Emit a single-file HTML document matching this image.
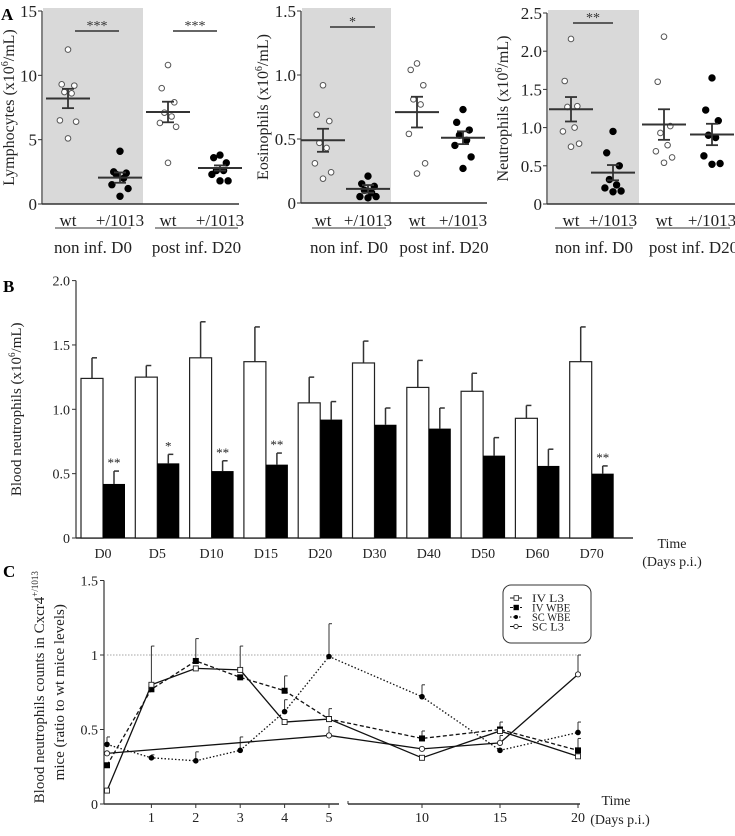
<!DOCTYPE html>
<html><head><meta charset="utf-8"><style>
html,body{margin:0;padding:0;background:#fff;}
svg, svg text{font-family:"Liberation Serif","Times New Roman",serif;}
</style></head><body>
<svg id="fig" width="735" height="831" viewBox="0 0 735 831" xmlns="http://www.w3.org/2000/svg" font-family="Liberation Serif, serif"></svg>
<script>
// ---------- Panel A data ----------
const aGroups = ["wt","+/1013","wt","+/1013"];
const aPeriods = ["non inf. D0","post inf. D20"];
const lymphVals = [[12,9.3,9.2,8.7,8.6,6.5,6.4,5.1],[4.1,2.5,2.4,2.3,2.0,1.5,1.2,0.6],[10.8,9.0,7.9,7.1,6.8,6.3,6.0,3.2],[3.8,3.6,3.2,2.6,2.6,2.3,1.8,1.8]];
const lymphMean = [8.2,2.05,7.15,2.8];
const lymphSem = [0.75,0.4,0.8,0.2];
const eosVals = [[0.92,0.69,0.64,0.47,0.43,0.31,0.24,0.19],[0.21,0.15,0.13,0.10,0.08,0.05,0.05,0.04],[1.09,1.04,0.92,0.81,0.77,0.54,0.31,0.23],[0.73,0.63,0.57,0.53,0.49,0.45,0.36,0.27]];
const eosMean = [0.49,0.11,0.71,0.51];
const eosSem = [0.09,0.03,0.12,0.05];
const neuVals = [[2.16,1.61,1.28,1.27,1.0,0.95,0.79,0.75],[0.95,0.67,0.50,0.32,0.25,0.21,0.17,0.16],[2.19,1.60,1.02,0.93,0.77,0.69,0.61,0.54],[1.65,1.23,1.09,0.90,0.87,0.63,0.53,0.52]];
const neuMean = [1.24,0.41,1.04,0.91];
const neuSem = [0.16,0.1,0.2,0.14];
const lymphTicks = [0,5,10,15];
const eosTicks = [0,0.5,1.0,1.5];
const neuTicks = [0,0.5,1.0,1.5,2.0,2.5];

// ---------- Panel B data ----------
const bDays = ["D0","D5","D10","D15","D20","D30","D40","D50","D60","D70"];
const bWt = [1.24,1.25,1.40,1.37,1.05,1.36,1.17,1.14,0.93,1.37];
const bWtErr = [0.16,0.09,0.28,0.27,0.20,0.17,0.21,0.14,0.10,0.27];
const bMut = [0.42,0.58,0.52,0.57,0.92,0.88,0.85,0.64,0.56,0.50];
const bMutErr = [0.10,0.07,0.08,0.09,0.14,0.13,0.16,0.14,0.13,0.06];
const bStars = ["**","*","**","**","","","","","","**"];
const bTicks = [0,0.5,1.0,1.5,2.0];

// ---------- Panel C data ----------
const cDays = [0,1,2,3,4,5,10,15,20];
const cTicks = [1,2,3,4,5,10,15,20];
const cYTicks = [0,0.5,1,1.5];
const ivL3 = [0.09,0.80,0.91,0.90,0.55,0.57,0.31,0.49,0.32];
const ivL3Err = [0,0.26,0,0.16,0,0,0,0,0];
const ivWbe = [0.26,0.77,0.96,0.85,0.76,0.57,0.44,0.50,0.36];
const ivWbeErr = [0,0,0.15,0,0.10,0.07,0.05,0.05,0.08];
const scWbe = [0.40,0.31,0.29,0.36,0.62,0.99,0.72,0.36,0.48];
const scWbeErr = [0.05,0.02,0.06,0.09,0.08,0.22,0.08,0,0.07];
const scL3Days = [0,5,10,15,20];
const scL3 = [0.34,0.46,0.37,0.41,0.87];
const scL3Err = [0,0.06,0,0.05,0.13];

const NS="http://www.w3.org/2000/svg";
const svg=document.getElementById('fig');
const FF='"Liberation Serif", serif';
function mk(tag,attrs,parent,txt){const e=document.createElementNS(NS,tag);for(const k in attrs)e.setAttribute(k,attrs[k]);if(tag==='text')e.setAttribute('font-family',FF);if(txt!==undefined)e.textContent=txt;(parent||svg).appendChild(e);return e;}
function line(x1,y1,x2,y2,st,w,dash,p){const a={x1,y1,x2,y2,stroke:st||'#000','stroke-width':w||1};if(dash)a['stroke-dasharray']=dash;return mk('line',a,p);}

// ---------------- Panel A ----------------
const aLab=mk('text',{x:1,y:20,'font-size':17,'font-weight':'bold'},svg,'A');


function dotPanel(cfg){
  const g=mk('g',{});
  
  
  const Y=v=>cfg.y0-(v/cfg.max)*(cfg.y0-cfg.yTop);
  const sh=mk('rect',{x:cfg.ax+1,y:cfg.yTop-3,width:cfg.shadeW,height:cfg.y0-cfg.yTop+3,fill:'#d9d9d9'},g);
  
  
  line(cfg.ax,cfg.yTop,cfg.ax,cfg.y0,'#333',1.2,null,g);
  line(cfg.ax,cfg.y0,cfg.xEnd,cfg.y0,'#333',1.5,null,g);
  cfg.ticks.forEach(t=>{
    line(cfg.ax-4,Y(t),cfg.ax,Y(t),'#333',1,null,g);
    const tx=mk('text',{x:cfg.ax-5,y:Y(t)+6,'font-size':17,'text-anchor':'end',fill:'#222'},g,cfg.fmt(t));
    
    
  });
  const yl=mk('text',{x:0,y:0,'font-size':16,'text-anchor':'middle',fill:'#222',transform:`translate(${cfg.ylx},${(cfg.y0+cfg.yTop)/2}) rotate(-90)`},g);
  
  
  yl.innerHTML='<tspan>'+cfg.ylabel+' (x10</tspan><tspan font-size="10" dy="-6">6</tspan><tspan dy="6">/mL)</tspan>';
  cfg.centers.forEach((cx,gi)=>{
    const vals=cfg.vals[gi];const filled=gi%2===1;
    vals.forEach((v,i)=>{
      const off=[-0,-7,7,-4,4,-9,9,0][i%8]*0.9;
      const c=mk('circle',{cx:cx+off,cy:Y(v),r:filled?3.2:2.8,fill:filled?'#000':'#fff',stroke:filled?'#000':'#555','stroke-width':1},g);
      
      
    });
    const m=cfg.mean[gi],s=cfg.sem[gi];
    line(cx-22,Y(m),cx+22,Y(m),'#333',2,null,g);
    line(cx,Y(m+s),cx,Y(m-s),'#333',1.8,null,g);
    line(cx-6,Y(m+s),cx+6,Y(m+s),'#333',1.8,null,g);
    line(cx-6,Y(m-s),cx+6,Y(m-s),'#333',1.8,null,g);
    const gl=mk('text',{x:cx,y:226,'font-size':17,'text-anchor':'middle',fill:'#222'},g,aGroups[gi]);
    
    
  });
  cfg.under.forEach((u,i)=>{
    line(u[0],228,u[1],228,'#333',1,null,g);
    const pl=mk('text',{x:(u[0]+u[1])/2,y:253,'font-size':17,'text-anchor':'middle',fill:'#222'},g,aPeriods[i]);
    
    
  });
  cfg.sig.forEach(s=>{
    line(s[0],s[2],s[1],s[2],'#333',1.5,null,g);
    const st=mk('text',{x:(s[0]+s[1])/2,y:s[2]-1,'font-size':14,'text-anchor':'middle',fill:'#333'},g,s[3]);
    
    
  });
}
dotPanel({name:'lymphocytes-chart',ax:42,y0:204,yTop:11,max:15,shadeW:100,xEnd:239,ticks:lymphTicks,fmt:t=>String(t),ylx:14,ylabel:'Lymphocytes',
  centers:[68,120,168,220],vals:lymphVals,mean:lymphMean,sem:lymphSem,under:[[55,131],[155,238]],sig:[[75,119,31,'***'],[173,217,31,'***']]});
dotPanel({name:'eosinophils-chart',ax:301,y0:203,yTop:11,max:1.5,shadeW:89,xEnd:487,ticks:eosTicks,fmt:t=>t===0?'0':t.toFixed(1),ylx:268,ylabel:'Eosinophils',
  centers:[323,368,417,463],vals:eosVals,mean:eosMean,sem:eosSem,under:[[312,386],[410,478]],sig:[[330,375,27,'*']]});
dotPanel({name:'neutrophils-chart',ax:547,y0:204,yTop:13,max:2.5,shadeW:91,xEnd:735,ticks:neuTicks,fmt:t=>t===0?'0':t.toFixed(1),ylx:508,ylabel:'Neutrophils',
  centers:[571,613,664,712],vals:neuVals,mean:neuMean,sem:neuSem,under:[[555,633],[657,730]],sig:[[573,613,23,'**']]});

// ---------------- Panel B ----------------
(function(){
  const g=mk('g',{});
  
  
  const ax=76,y0=538,unit=128.7,cx0=103,step=54.3;
  const Y=v=>y0-v*unit;
  const X=i=>cx0+i*step;
  const bl=mk('text',{x:3,y:292,'font-size':17,'font-weight':'bold'},g,'B');
  
  
  line(ax,Y(2.0),ax,y0,'#333',1.2,null,g);
  line(ax,y0,633,y0,'#333',1.5,null,g);
  bTicks.forEach(t=>{
    line(ax-4,Y(t),ax,Y(t),'#333',1,null,g);
    const tx=mk('text',{x:ax-6,y:Y(t)+5,'font-size':14,'text-anchor':'end',fill:'#222'},g,t===0?'0':t.toFixed(1));
    
    
  });
  const yl=mk('text',{x:0,y:0,'font-size':15,'text-anchor':'middle',fill:'#222',transform:`translate(21,${(Y(2)+y0)/2}) rotate(-90)`},g);
  
  
  yl.innerHTML='<tspan>Blood neutrophils (x10</tspan><tspan font-size="9" dy="-6">6</tspan><tspan dy="6">/mL)</tspan>';
  bDays.forEach((d,i)=>{
    const c=X(i);
    const ew=Y(bWt[i]+bWtErr[i]),em=Y(bMut[i]+bMutErr[i]);
    line(c-11,Y(bWt[i]),c-11,ew,'#333',1.5,null,g);line(c-11,ew,c-6,ew,'#333',1.5,null,g);
    const w=mk('rect',{x:c-22,y:Y(bWt[i]),width:22,height:bWt[i]*unit,fill:'#fff',stroke:'#222','stroke-width':1.2},g);
    
    
    line(c+11,Y(bMut[i]),c+11,em,'#333',1.5,null,g);line(c+11,em,c+16,em,'#333',1.5,null,g);
    const m=mk('rect',{x:c,y:Y(bMut[i]),width:22,height:bMut[i]*unit,fill:'#000'},g);
    
    
    if(bStars[i]){const s=mk('text',{x:c+11,y:em-4,'font-size':13,'text-anchor':'middle',fill:'#222'},g,bStars[i]);
      
      }
    const l=mk('text',{x:c,y:558,'font-size':14,'text-anchor':'middle',fill:'#222'},g,d);
    
    
  });
  const t1=mk('text',{x:672,y:548,'font-size':14,'text-anchor':'middle',fill:'#222'},g,'Time');
  
  
  const t2=mk('text',{x:672,y:566,'font-size':14,'text-anchor':'middle',fill:'#222'},g,'(Days p.i.)');
  
  
})();

// ---------------- Panel C ----------------
(function(){
  const g=mk('g',{});
  
  
  const ax=104,y0=804,unit=149;
  const Y=v=>y0-v*unit;
  const X=d=>d<=5?107+d*44.4:344+(d-5)*15.6;
  const cl=mk('text',{x:3,y:577,'font-size':17,'font-weight':'bold'},g,'C');
  
  
  line(ax,Y(1.5),ax,y0,'#333',1.2,null,g);
  line(ax,y0,339,y0,'#333',1.5,null,g);
  line(348,y0,580,y0,'#333',1.5,null,g);
  line(348,y0-3,348,y0,'#333',1,null,g);
  cYTicks.forEach(t=>{
    line(ax-4,Y(t),ax,Y(t),'#333',1,null,g);
    const tx=mk('text',{x:ax-6,y:Y(t)+5,'font-size':14,'text-anchor':'end',fill:'#222'},g,String(t));
    
    
  });
  cTicks.forEach(t=>{
    line(X(t),y0,X(t),y0+4,'#333',1,null,g);
    const tx=mk('text',{x:X(t),y:y0+18,'font-size':14,'text-anchor':'middle',fill:'#222'},g,String(t));
    
    
  });
  line(X(0),Y(1),580,Y(1),'#888',0.8,'1.5,1.5',g);
  const yl=mk('text',{x:0,y:0,'font-size':15,'text-anchor':'middle',fill:'#222',transform:`translate(44,${Y(0.75)-5}) rotate(-90)`},g);
  
  
  yl.innerHTML='<tspan>Blood neutrophils counts in Cxcr4</tspan><tspan font-size="9" dy="-6">+/1013</tspan>';
  const yl2=mk('text',{x:0,y:0,'font-size':15,'text-anchor':'middle',fill:'#222',transform:`translate(64,${Y(0.75)}) rotate(-90)`},g,'mice (ratio to wt mice levels)');
  
  
  function series(name,days,vals,errs,dash,marker){
    const sg=mk('g',{},g);
    
    
    const pts=days.map((d,i)=>X(d)+','+Y(vals[i])).join(' ');
    const pl={points:pts,fill:'none',stroke:'#111','stroke-width':1.3};
    if(dash)pl['stroke-dasharray']=dash;
    mk('polyline',pl,sg);
    days.forEach((d,i)=>{
      const x=X(d),y=Y(vals[i]);
      if(errs[i]>0){const ye=Y(vals[i]+errs[i]);line(x,y,x,ye,'#333',1,null,sg);line(x,ye,x+3,ye,'#333',1,null,sg);}
      let m;
      if(marker==='osq')m=mk('rect',{x:x-2.5,y:y-2.5,width:5,height:5,fill:'#fff',stroke:'#222','stroke-width':0.9},sg);
      else if(marker==='fsq')m=mk('rect',{x:x-3,y:y-3,width:6,height:6,fill:'#000'},sg);
      else if(marker==='fc')m=mk('circle',{cx:x,cy:y,r:2.8,fill:'#000'},sg);
      else m=mk('circle',{cx:x,cy:y,r:2.6,fill:'#fff',stroke:'#222','stroke-width':0.9},sg);
      
      
    });
  }
  series('series-sc-wbe',cDays,scWbe,scWbeErr,'1.5,2','fc');
  series('series-sc-l3',scL3Days,scL3,scL3Err,null,'oc');
  series('series-iv-wbe',cDays,ivWbe,ivWbeErr,'4,2.5','fsq');
  series('series-iv-l3',cDays,ivL3,ivL3Err,null,'osq');
  const lg=mk('g',{},g);
  
  
  mk('rect',{x:503,y:585,width:88,height:58,rx:8,fill:'#fff',stroke:'#333','stroke-width':1},lg);
  const items=[['IV L3','osq',null],['IV WBE','fsq','3,2'],['SC WBE','fc','1.5,1.5'],['SC L3','oc',null]];
  items.forEach((it,i)=>{
    const y=598+i*9.5;
    const eg=mk('g',{},lg);
    
    
    line(510,y,522,y,'#111',1,it[2],eg);
    if(it[1]==='osq')mk('rect',{x:514,y:y-2.3,width:4.6,height:4.6,fill:'#fff',stroke:'#222','stroke-width':0.8},eg);
    else if(it[1]==='fsq')mk('rect',{x:513.5,y:y-2.7,width:5.4,height:5.4,fill:'#000'},eg);
    else if(it[1]==='fc')mk('circle',{cx:516,cy:y,r:2,fill:'#000'},eg);
    else mk('circle',{cx:516,cy:y,r:2.2,fill:'#fff',stroke:'#222','stroke-width':0.8},eg);
    mk('text',{x:532,y:y+4,'font-size':12,fill:'#222',textLength:it[0].length*6.4,lengthAdjust:'spacingAndGlyphs'},eg,it[0]);
  });
  const t1=mk('text',{x:616,y:805,'font-size':14,'text-anchor':'middle',fill:'#222'},g,'Time');
  
  
  const t2=mk('text',{x:620,y:824,'font-size':14,'text-anchor':'middle',fill:'#222'},g,'(Days p.i.)');
  
  
})();
</script>
</body></html>
